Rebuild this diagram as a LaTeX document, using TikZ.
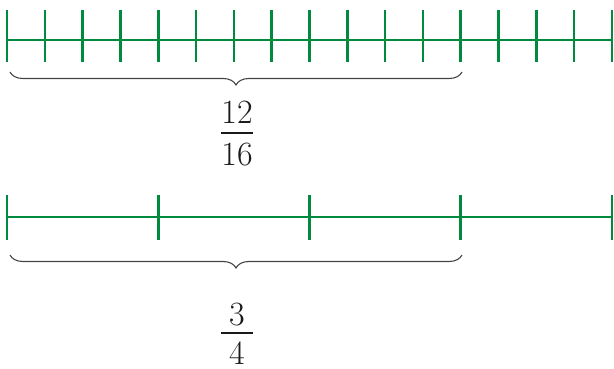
\documentclass[tikz,border=0pt]{standalone}
\usepackage{fontspec}
\usetikzlibrary{decorations.pathreplacing}
\definecolor{linegreen}{HTML}{008A3E}
\definecolor{ink}{HTML}{1A1A1A}
\definecolor{bracegray}{HTML}{444444}
\tikzset{
  numline/.style={draw=linegreen, line width=2.6pt},
  tick/.style={draw=linegreen, line width=2.6pt},
  bracestyle/.style={draw=bracegray, line width=1.1pt,
    decorate, decoration={brace, mirror, amplitude=13pt, aspect=0.5}},
  digit/.style={text=ink, inner sep=0pt, font=\fontsize{34}{40}\selectfont},
  fracbar/.style={draw=ink, line width=1.6pt}
}
\begin{document}
\begin{tikzpicture}[x=1pt,y=-1pt]
\useasboundingbox (0,0) rectangle (614,369);
% top number line (16 parts)
\coordinate (t0) at (7,40);
\coordinate (t16) at (612,40);
\draw[numline] (t0) -- (t16);
\foreach \i in {0,...,16}{
  \draw[tick] ({7+\i*605/16},10) -- ({7+\i*605/16},62);
}
% bottom number line (4 parts)
\coordinate (b0) at (7,217);
\coordinate (b4) at (612,217);
\draw[numline] (b0) -- (b4);
\foreach \i in {0,...,4}{
  \draw[tick] ({7+\i*605/4},195) -- ({7+\i*605/4},240);
}
% braces
\coordinate (ba) at (10,72);
\coordinate (bb) at (462,72);
\draw[bracestyle] (ba) -- (bb);
\coordinate (bc) at (10,255);
\coordinate (bd) at (462,255);
\draw[bracestyle] (bc) -- (bd);
% fraction 12/16
\node[digit] (n1) at (237,112) {12};
\node[digit] (d1) at (237,155) {16};
\draw[fracbar] (221,133) -- (253,133);
% fraction 3/4
\node[digit] (n2) at (237,315) {3};
\node[digit] (d2) at (237,353) {4};
\draw[fracbar] (221,333) -- (253,333);
\end{tikzpicture}
\end{document}
